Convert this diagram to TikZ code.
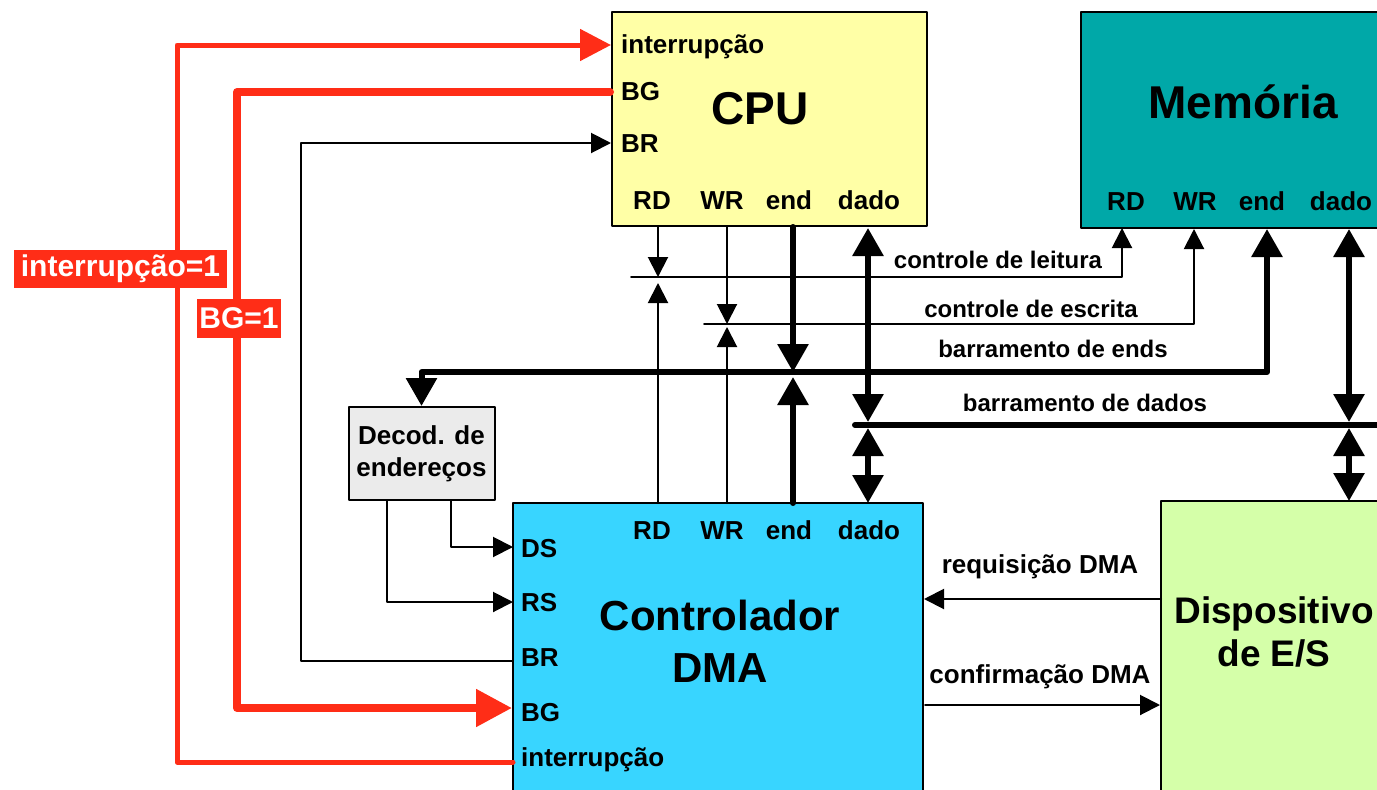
\documentclass[tikz,border=0pt]{standalone}
\usepackage{fontspec}
\setmainfont{Liberation Sans}
\usetikzlibrary{arrows.meta}
\definecolor{cpuyellow}{HTML}{FFFFA6}
\definecolor{memteal}{HTML}{00A8A8}
\definecolor{dmacyan}{HTML}{38D5FF}
\definecolor{iogreen}{HTML}{D5FFA9}
\definecolor{decgray}{HTML}{EBEBEB}
\definecolor{sigred}{HTML}{FF2D17}
\tikzset{
  every picture/.style={line join=round, line cap=round},
  wtip/.tip={Triangle[length=20pt,width=20pt]},
  btip/.tip={Triangle[length=28pt,width=30pt]},
  itip/.tip={Triangle[length=31pt,width=31pt]},
  gtip/.tip={Triangle[length=36pt,width=36pt]},
  unit/.style={draw, line width=2pt, inner sep=0pt},
  port/.style={font=\fontsize{26}{30}\selectfont\bfseries, inner sep=0pt},
  tag/.style={font=\fontsize{24}{28}\selectfont\bfseries, inner sep=0pt},
  title/.style={font=\fontsize{46}{52}\selectfont\bfseries, inner sep=0pt, align=center},
  wire/.style={line width=2pt},
  bus/.style={line width=6pt},
  intline/.style={draw=sigred, line width=5pt},
  bgline/.style={draw=sigred, line width=8pt},
  flag/.style={fill=sigred, text=white, font=\fontsize{30}{34}\selectfont\bfseries, inner sep=0pt},
}
\begin{document}
\begin{tikzpicture}[x=1pt,y=-1pt]
\useasboundingbox (0,0) rectangle (1377,790);
\clip (0,0) rectangle (1377,790);
\node[unit, fill=cpuyellow, minimum width=315pt, minimum height=214pt] (cpu) at (769,119) {};
\node[unit, fill=memteal, minimum width=320pt, minimum height=216pt] (mem) at (1241,120) {};
\node[unit, fill=dmacyan, minimum width=410pt, minimum height=320pt] (dma) at (718,663) {};
\node[unit, fill=iogreen, minimum width=240pt, minimum height=320pt] (io) at (1281,661) {};
\node[unit, fill=decgray, minimum width=146pt, minimum height=93pt, align=center,
  font=\fontsize{26}{32}\selectfont\bfseries] (dec) at (421.5,453.5) {Decod. de\\endereços};
\node[title, anchor=base] (cpu-t) at (760,124) {CPU};
\node[title, anchor=base] (mem-t) at (1243,118) {Memória};
\node[title, font=\fontsize{42}{52}\selectfont\bfseries] (dma-t) at (720,641) {Controlador\\DMA};
\node[title, font=\fontsize{37}{43}\selectfont\bfseries] (io-t) at (1274,632) {Dispositivo\\de E/S};
\foreach \txt/\y [count=\i] in {interrupção/53,BG/100,BR/152}
  \node[port, anchor=base west] (cpu-l\i) at (621,\y) {\txt};
\foreach \txt/\y [count=\i] in {DS/557,RS/611,BR/666,BG/721,interrupção/766}
  \node[port, anchor=base west] (dma-l\i) at (521,\y) {\txt};
\foreach \txt/\x [count=\i] in {RD/652,WR/722,end/789,dado/869}{
  \node[port, anchor=base] (cpu-p\i) at (\x,209) {\txt};
  \node[port, anchor=base] (dma-p\i) at (\x,539) {\txt};}
\foreach \txt/\x [count=\i] in {RD/1126,WR/1195,end/1262,dado/1341}
  \node[port, anchor=base] (mem-p\i) at (\x,210) {\txt};
\node[tag, anchor=base] (rd-t) at (998,268) {controle de leitura};
\node[tag, anchor=base] (wr-t) at (1031,317) {controle de escrita};
\node[tag, anchor=base] (end-t) at (1053,357) {barramento de ends};
\node[tag, anchor=base] (dado-t) at (1085,411) {barramento de dados};
\node[port, anchor=base] (req-t) at (1040,573) {requisição DMA};
\node[port, anchor=base] (ack-t) at (1040,683) {confirmação DMA};
\coordinate (cpu-int) at (611,45);
\coordinate (cpu-bg) at (610,92);
\coordinate (cpu-br) at (611,143);
\coordinate (cpu-rd) at (658,227);
\coordinate (cpu-wr) at (727,227);
\coordinate (cpu-end) at (793,227);
\coordinate (cpu-dado) at (868,228);
\coordinate (mem-rd) at (1122,228);
\coordinate (mem-wr) at (1194,229);
\coordinate (mem-end) at (1267,229);
\coordinate (mem-dado) at (1349,229);
\coordinate (dma-rd) at (658,503);
\coordinate (dma-wr) at (727,503);
\coordinate (dma-end) at (793,503);
\coordinate (dma-dado) at (868,503);
\coordinate (io-dado) at (1349,501);
\coordinate (dma-ds) at (513,547);
\coordinate (dma-rs) at (513,602);
\coordinate (dma-br) at (513,661);
\coordinate (dma-bg) at (512,708);
\coordinate (dma-int) at (513,762);
\coordinate (dec-ds) at (451,500);
\coordinate (dec-rs) at (387,500);
\coordinate (rd-bus) at (631,277);
\coordinate (wr-bus) at (704,324);
\coordinate (end-bus) at (421.5,372);
\coordinate (data-l) at (855,425);
\coordinate (data-r) at (1390,425);
\coordinate (io-req) at (1161,599);
\coordinate (dma-ack) at (925,705);
\coordinate (br-turn) at (301,143);
\coordinate (int-turn) at (177,45);
\coordinate (bg-turn) at (237,708);
\draw[wire,-wtip] (rd-bus) -| (mem-rd);
\draw[wire,-wtip] (cpu-rd) -- (cpu-rd |- rd-bus);
\draw[wire,-wtip,shorten >=6pt] (dma-rd) -- (dma-rd |- rd-bus);
\draw[wire,-wtip] (wr-bus) -| (mem-wr);
\draw[wire,-wtip] (cpu-wr) -- (cpu-wr |- wr-bus);
\draw[wire,-wtip,shorten >=3pt] (dma-wr) -- (dma-wr |- wr-bus);
\draw[bus,btip-btip] (mem-end) |- (end-bus) -- (dec.north);
\draw[bus,-btip] (cpu-end) -- (cpu-end |- end-bus);
\draw[bus,-btip,shorten >=5pt] (dma-end) -- (dma-end |- end-bus);
\draw[bus] (data-l) -- (data-r);
\draw[bus,btip-btip,shorten >=3pt] (cpu-dado) -- (cpu-dado |- data-l);
\draw[bus,btip-btip,shorten >=3pt] (mem-dado) -- (mem-dado |- data-l);
\draw[bus,btip-btip,shorten <=3pt] (dma-dado |- data-l) -- (dma-dado);
\draw[bus,btip-btip,shorten <=3pt] (io-dado |- data-l) -- (io-dado);
\draw[wire,-wtip] (io-req) -- (io-req -| dma.east);
\draw[wire,-wtip] (dma-ack) -- (dma-ack -| io.west);
\draw[wire,-wtip] (dec-ds) |- (dma-ds);
\draw[wire,-wtip] (dec-rs) |- (dma-rs);
\draw[wire,-wtip] (dma-br) -| (br-turn) -- (cpu-br);
\draw[intline,-itip] (dma-int) -| (int-turn) -- (cpu-int);
\draw[bgline,-gtip] (cpu-bg) -| (bg-turn) -- (dma-bg);
\node[flag, minimum width=213pt, minimum height=38pt] (int-flag) at (120.5,269) {interrupção=1};
\node[flag, minimum width=84pt, minimum height=39pt] (bg-flag) at (239,318.5) {BG=1};
\end{tikzpicture}
\end{document}
